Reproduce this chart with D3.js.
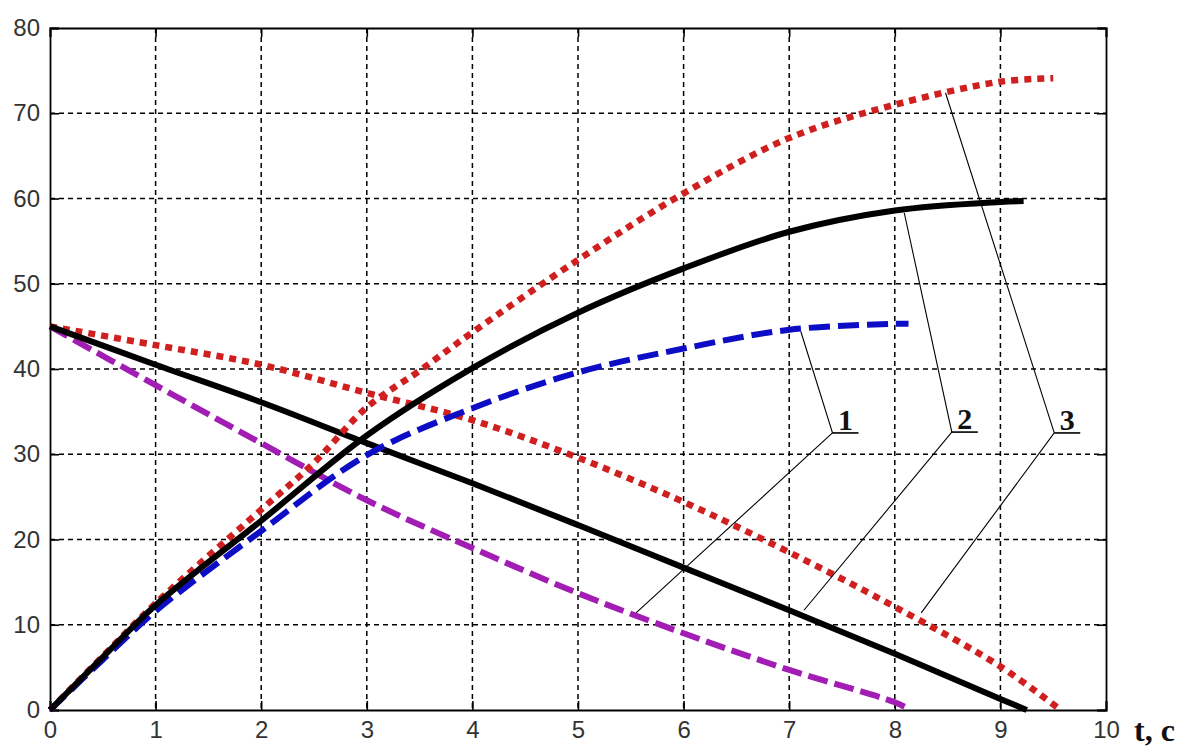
<!DOCTYPE html>
<html>
<head>
<meta charset="utf-8">
<script src="https://cdn.jsdelivr.net/npm/d3@7"></script>
<style>
  html, body { margin: 0; padding: 0; background: #fff; }
  svg { display: block; }
</style>
</head>
<body>
<svg id="chart" width="1192" height="749"></svg>
<script>
// ---- data ----
const xTicks = [0,1,2,3,4,5,6,7,8,9,10];
const yTicks = [0,10,20,30,40,50,60,70,80];
const xAxisTitle = "t, с";

// rising curves
const blueUpT   = [0, 0.5, 1, 2, 3, 4, 5, 6, 7, 8, 8.13];
const blueUpV   = [0, 5.9, 11.6, 21.0, 29.9, 35.4, 39.6, 42.4, 44.6, 45.3, 45.3];
const blackUpT  = [0, 0.5, 1, 2, 3, 4, 5, 6, 7, 8, 9, 9.22];
const blackUpV  = [0, 6.2, 12.3, 22.2, 32.2, 40.1, 46.6, 51.8, 56.1, 58.6, 59.6, 59.7];
const redUpT    = [0, 0.5, 1, 2, 2.5, 3, 3.5, 4, 5, 6, 7, 8, 9, 9.5];
const redUpV    = [0, 6.3, 12.5, 23.5, 29.0, 35.5, 39.8, 44.3, 52.8, 60.6, 67.1, 71.0, 73.7, 74.1];

// falling curves
const magDownT   = [0, 1, 2, 3, 4, 5, 6, 7, 8, 8.15];
const magDownV   = [45, 38.1, 31.3, 24.6, 19.0, 13.7, 9.0, 4.7, 0.9, 0];
const blackDownT = [0, 1, 2, 3, 4, 5, 6, 7, 8, 9, 9.25];
const blackDownV = [45, 40.5, 36.1, 31.3, 26.6, 21.7, 16.7, 11.7, 6.6, 1.3, 0];
const redDownT   = [0, 1, 2, 3, 4, 5, 6, 7, 8, 9, 9.57];
const redDownV   = [45, 42.8, 40.5, 37.2, 34.0, 29.6, 24.4, 18.5, 12.1, 5.1, 0];

// callout labels: junction, upper end, lower end (data units)
const calloutNames = ["1", "2", "3"];
const calloutJunction = [[7.41, 32.5], [8.54, 32.6], [9.51, 32.5]];
const calloutUpper    = [[7.11, 44.4], [8.09, 58.3], [8.48, 72.4]];
const calloutLower    = [[5.55, 11.4], [7.14, 11.7], [8.25, 11.4]];

// ---- layout ----
const svg = d3.select("#chart");
const L = 50, R = 1106, T = 28, B = 710;
const x = d3.scaleLinear().domain([0, 10]).range([L, R]);
const y = d3.scaleLinear().domain([0, 80]).range([B, T]);

// grid
const grid = svg.append("g").attr("stroke", "#000").attr("stroke-width", 1.5)
  .attr("stroke-dasharray", "5,4").attr("fill", "none");
grid.selectAll("line.vx").data(xTicks.slice(1, -1)).enter().append("line")
  .attr("x1", d => x(d)).attr("x2", d => x(d)).attr("y1", T).attr("y2", B);
grid.selectAll("line.hy").data(yTicks.slice(1, -1)).enter().append("line")
  .attr("x1", L).attr("x2", R).attr("y1", d => y(d)).attr("y2", d => y(d));

// axes via d3 (ticks pointing inward)
const tickLen = 9;
const axB = svg.append("g").attr("transform", `translate(0,${B})`)
  .call(d3.axisBottom(x).tickValues(xTicks).tickSize(-tickLen).tickPadding(11).tickFormat(d3.format("d")));
const axL = svg.append("g").attr("transform", `translate(${L},0)`)
  .call(d3.axisLeft(y).tickValues(yTicks).tickSize(-tickLen).tickPadding(10).tickFormat(d3.format("d")));
const axT = svg.append("g").attr("transform", `translate(0,${T})`)
  .call(d3.axisTop(x).tickValues(xTicks).tickSize(-tickLen).tickFormat(""));
const axR = svg.append("g").attr("transform", `translate(${R},0)`)
  .call(d3.axisRight(y).tickValues(yTicks).tickSize(-tickLen).tickFormat(""));
[axB, axL, axT, axR].forEach(a => {
  a.attr("font-size", null).attr("font-family", null);
  a.select(".domain").attr("stroke", "#000").attr("stroke-width", 1.8);
  a.selectAll(".tick line").attr("stroke", "#000").attr("stroke-width", 1.6);
  a.selectAll(".tick text").attr("fill", "#333")
    .style("font-family", "'Liberation Sans', Arial, sans-serif").style("font-size", "24px");
});

// x-axis title
svg.append("text").attr("x", x(10) + 28).attr("y", B + 31)
  .style("font-family", "'Liberation Serif', 'Times New Roman', serif")
  .style("font-size", "32px").style("font-weight", "bold").attr("fill", "#111")
  .text(xAxisTitle);

// curves
const line = d3.line().x(d => x(d[0])).y(d => y(d[1])).curve(d3.curveCatmullRom.alpha(0.5));
const zip = (ts, vs) => ts.map((t, i) => [t, vs[i]]);

const series = [
  { t: redDownT,   v: redDownV,   color: "#d01f1f", w: 6.5, dash: "7,6" },
  { t: magDownT,   v: magDownV,   color: "#a21db3", w: 6,   dash: "20,7" },
  { t: blackDownT, v: blackDownV, color: "#000",    w: 6,   dash: null },
  { t: redUpT,     v: redUpV,     color: "#d01f1f", w: 6.5, dash: "7,6" },
  { t: blueUpT,    v: blueUpV,    color: "#0d0dc6", w: 6,   dash: "21,8" },
  { t: blackUpT,   v: blackUpV,   color: "#000",    w: 6,   dash: null }
];
svg.append("g").selectAll("path").data(series).enter().append("path")
  .attr("d", d => line(zip(d.t, d.v)))
  .attr("fill", "none")
  .attr("stroke", d => d.color)
  .attr("stroke-width", d => d.w)
  .attr("stroke-dasharray", d => d.dash)
  .attr("stroke-linecap", "butt");

// callouts
const cg = svg.append("g");
calloutNames.forEach((name, i) => {
  const j = calloutJunction[i], u = calloutUpper[i], lo = calloutLower[i];
  cg.append("polyline")
    .attr("points", [u, j, lo].map(p => [x(p[0]), y(p[1])].join(",")).join(" "))
    .attr("fill", "none").attr("stroke", "#000").attr("stroke-width", 1.1);
  cg.append("line")
    .attr("x1", x(j[0])).attr("x2", x(j[0]) + 26)
    .attr("y1", y(j[1])).attr("y2", y(j[1]))
    .attr("stroke", "#000").attr("stroke-width", 1.6);
  cg.append("text").attr("x", x(j[0]) + 13).attr("y", y(j[1]) - 3)
    .attr("text-anchor", "middle")
    .style("font-family", "'Liberation Serif', 'Times New Roman', serif")
    .style("font-size", "30px").style("font-weight", "bold").attr("fill", "#111")
    .text(name);
});
</script>
</body>
</html>
